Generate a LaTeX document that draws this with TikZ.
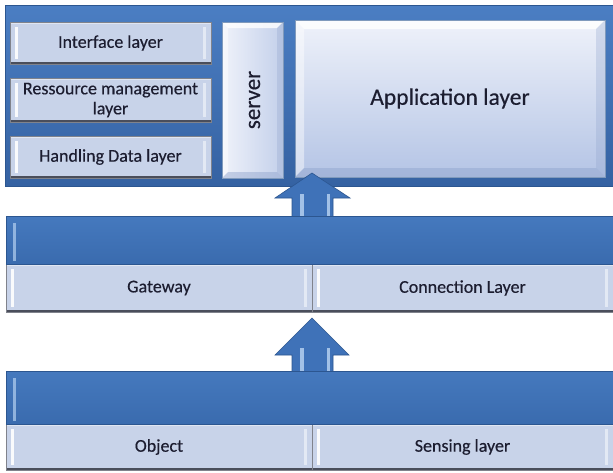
\documentclass[tikz,border=0pt]{standalone}
\usepackage{fontspec}
\setmainfont{Carlito}[FakeBold=0.35]
\usetikzlibrary{calc}

\definecolor{frametop}{HTML}{4B7EC3}
\definecolor{framebot}{HTML}{3562A2}
\definecolor{frameedge}{HTML}{2C5690}
\definecolor{bandtop}{HTML}{4579BE}
\definecolor{bandbot}{HTML}{3A6BAE}
\definecolor{paleblue}{HTML}{C8D3E9}
\definecolor{inkblue}{HTML}{1C1D30}
\definecolor{shadowgray}{HTML}{4A4E5B}
\definecolor{facetop}{HTML}{EFF2FA}
\definecolor{facebot}{HTML}{B4C4E5}
\definecolor{bevelshade}{HTML}{8FA3CC}
\definecolor{arrowblue}{HTML}{3F72B8}
\definecolor{arrowlight}{HTML}{B4D0F0}

\tikzset{
  every node/.style={inner sep=0pt, outer sep=0pt, text=inkblue, align=center,
    font=\fontsize{18}{20}\selectfont},
  % dark blue carrier panels
  bluepanel/.style={draw=frameedge, line width=1pt, top color=frametop, bottom color=framebot},
  bandpanel/.style={draw=frameedge, line width=.8pt, top color=bandtop, bottom color=bandbot,
    path picture={
      \fill[arrowlight,opacity=.7] ([shift={(7pt,-7pt)}]path picture bounding box.north west)
        rectangle ([shift={(10pt,3pt)}]path picture bounding box.south west);
    }},
  % light layer boxes with a soft highlight and a dark lower edge
  lbox/.style={fill=paleblue, draw=shadowgray!70, line width=.6pt,
    path picture={
      \fill[white,opacity=.9] ([shift={(5pt,-5pt)}]path picture bounding box.north west)
        rectangle ([shift={(8pt,5pt)}]path picture bounding box.south west);
      \fill[white,opacity=.5] ([shift={(-8pt,-5pt)}]path picture bounding box.north east)
        rectangle ([shift={(-5pt,5pt)}]path picture bounding box.south east);
      \fill[white,opacity=.45] (path picture bounding box.north west)
        rectangle ([yshift=-2pt]path picture bounding box.north east);
      \fill[shadowgray] ([yshift=2.5pt]path picture bounding box.south west)
        rectangle (path picture bounding box.south east);
    }},
  % raised faces with a bevelled rim
  bevel/.style={path picture={
      \path (path picture bounding box.north west) coordinate (pNW)
            (path picture bounding box.north east) coordinate (pNE)
            (path picture bounding box.south west) coordinate (pSW)
            (path picture bounding box.south east) coordinate (pSE);
      \fill[white,opacity=.8] (pNW) -- (pNE) -- ([shift={(-#1,-#1)}]pNE) -- ([shift={(#1,-#1)}]pNW) -- cycle;
      \fill[white,opacity=.45] (pNW) -- ([shift={(#1,-#1)}]pNW) -- ([shift={(#1,#1)}]pSW) -- (pSW) -- cycle;
      \fill[bevelshade,opacity=.3] (pNE) -- (pSE) -- ([shift={(-#1,#1)}]pSE) -- ([shift={(-#1,-#1)}]pNE) -- cycle;
      \fill[bevelshade,opacity=.45] (pSW) -- (pSE) -- ([shift={(-#1,#1)}]pSE) -- ([shift={(#1,#1)}]pSW) -- cycle;
    }},
  appbox/.style={top color=facetop, bottom color=facebot, draw=frameedge!60, line width=.6pt, bevel=9pt},
  serverbox/.style={left color=facetop, right color=facebot!80, draw=frameedge!60, line width=.6pt, bevel=6pt},
  blockarrow/.style={fill=arrowblue, draw=frameedge, line width=.6pt, line join=miter},
  arrowstripe/.style={fill=arrowlight, opacity=.85},
}

\begin{document}
\begin{tikzpicture}[x=1pt,y=-1pt]
\useasboundingbox (0,0) rectangle (613,472);
\fill[white] (0,0) rectangle (613,472);

% ---- server tier ----
\node[bluepanel, minimum width=608pt, minimum height=181pt] (frame) at (309,95.5) {};
\node[lbox, minimum width=201pt, minimum height=42pt] (iface) at (110.5,43) {Interface layer};
\node[lbox, minimum width=201pt, minimum height=44pt] (res) at (110.5,100) {Ressource management\\layer};
\node[lbox, minimum width=201pt, minimum height=42pt] (hand) at (110.5,157) {Handling Data layer};
\node[serverbox, minimum width=61pt, minimum height=156pt] (server) at (252.5,100) {};
\node[rotate=90, font=\fontsize{23}{26}\selectfont] (servertext) at ([xshift=2pt]server.center) {server};
\node[appbox, minimum width=310pt, minimum height=157pt, font=\fontsize{23.5}{26}\selectfont] (app) at (450,98.5) {Application layer};

% ---- connection tier ----
\node[lbox, minimum width=306pt, minimum height=48pt] (gw) at (159,288) {Gateway};
\node[lbox, minimum width=301pt, minimum height=48pt] (conn) at (462.5,288) {Connection Layer};

% ---- sensing tier ----
\node[lbox, minimum width=306pt, minimum height=46pt] (obj) at (159,447) {Object};
\node[lbox, minimum width=301pt, minimum height=46pt] (sens) at (462.5,447) {Sensing layer};

% upward block arrows, each rising out of its band
\coordinate (a1tip) at ([yshift=4pt]gw.north east |- app.south);
\coordinate (a1foot) at ([yshift=-8pt]gw.north east |- 0,216);
\coordinate (a2tip) at ([yshift=-6pt]gw.south east);
\coordinate (a2foot) at ([yshift=-8pt]gw.north east |- 0,371);

\filldraw[blockarrow] let \p1=(a1tip), \p2=(a1foot) in
  (\x1,\y1) -- (\x1+38pt,\y1-25pt) -- (\x1+21pt,\y1-25pt) -- (\x1+21pt,\y2)
  -- (\x1-20pt,\y2) -- (\x1-20pt,\y1-25pt) -- (\x1-37pt,\y1-25pt) -- cycle;
\filldraw[blockarrow] let \p1=(a2tip), \p2=(a2foot) in
  (\x1,\y1) -- (\x1+37pt,\y1-37pt) -- (\x1+21pt,\y1-37pt) -- (\x1+21pt,\y2)
  -- (\x1-20pt,\y2) -- (\x1-20pt,\y1-37pt) -- (\x1-37pt,\y1-37pt) -- cycle;

% bands drawn over the arrow feet
\node[bandpanel, minimum width=607pt, minimum height=48pt] (band2) at (309.5,240) {};
\node[bandpanel, minimum width=607pt, minimum height=53pt] (band1) at (309.5,397.5) {};

% highlights on the arrow shafts
\fill[arrowstripe] let \p1=(a1tip), \p2=(band2.north) in
  (\x1-12pt,\y1-21pt) rectangle (\x1-8pt,\y2);
\fill[arrowstripe] let \p1=(a1tip), \p2=(band2.north) in
  (\x1+15pt,\y1-21pt) rectangle (\x1+18pt,\y2);
\fill[arrowstripe] let \p1=(a2tip), \p2=(band1.north) in
  (\x1-12pt,\y1-30pt) rectangle (\x1-8pt,\y2);
\fill[arrowstripe] let \p1=(a2tip), \p2=(band1.north) in
  (\x1+15pt,\y1-30pt) rectangle (\x1+18pt,\y2);
\end{tikzpicture}
\end{document}
